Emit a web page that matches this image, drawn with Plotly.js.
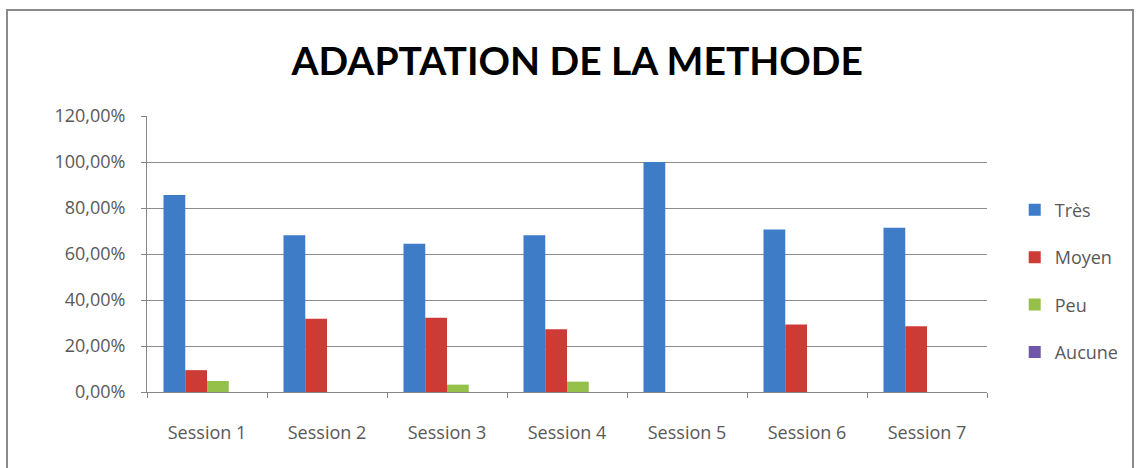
<!DOCTYPE html>
<html>
<head>
<meta charset="utf-8">
<script src="https://cdn.plot.ly/plotly-3.0.1.min.js"></script>
<style>
html,body{margin:0;padding:0;background:#fff;}
#chart{width:1143px;height:468px;}
#frame{position:absolute;left:6px;top:9px;width:1128px;height:470px;border:2px solid #8a8a8a;border-bottom:none;pointer-events:none;box-sizing:border-box;}
</style>
</head>
<body>
<div id="chart"></div>
<div id="frame"></div>
<script>
const categories = ["Session 1","Session 2","Session 3","Session 4","Session 5","Session 6","Session 7"];
const tres   = [0.857, 0.682, 0.645, 0.682, 1.00, 0.706, 0.714];
const moyen  = [0.095, 0.318, 0.323, 0.273, 0.00, 0.294, 0.286];
const peu    = [0.048, 0.00, 0.032, 0.045, 0.00, 0.00, 0.00];
const aucune = [0, 0, 0, 0, 0, 0, 0];
const seriesNames = ["Très","Moyen","Peu","Aucune"];
const colors = ["#3e7cc8","#cc3b36","#95c04a","#6f56a8"];

const allSeries = [tres, moyen, peu, aucune];
const traces = allSeries.map((vals, i) => ({
  type: "bar",
  name: seriesNames[i],
  x: categories,
  y: vals,
  marker: {color: colors[i]},
  legendgroup: "g" + i,
  hoverinfo: "x+y"
}));

const layout = {
  width: 1143, height: 468,
  margin: {l: 147, r: 156, t: 116, b: 76},
  paper_bgcolor: "#ffffff",
  plot_bgcolor: "#ffffff",
  separators: ", ",
  barmode: "group",
  bargap: 0.275,
  bargroupgap: 0,
  title: {
    text: "<b>ADAPTATION DE LA METHODE</b>",
    font: {family: "Lato, 'Open Sans', sans-serif", size: 39, color: "#000000"},
    x: 0.505, xanchor: "center",
    y: 0.868, yanchor: "middle"
  },
  font: {family: "'Open Sans', sans-serif", color: "#595959"},
  xaxis: {
    type: "category",
    showgrid: false,
    showline: true, linecolor: "#868686", linewidth: 1,
    ticks: "outside", tickson: "boundaries", ticklen: 5, tickcolor: "#868686",
    tickfont: {size: 18, color: "#595959"},
    ticklabelstandoff: 24,
    zeroline: false
  },
  yaxis: {
    range: [0, 1.2],
    tickvals: [0, 0.2, 0.4, 0.6, 0.8, 1.0, 1.2],
    tickformat: ".2%",
    showgrid: true, gridcolor: "#8c8c8c", gridwidth: 1,
    showline: true, linecolor: "#868686", linewidth: 1,
    ticks: "outside", ticklen: 5, tickcolor: "#868686",
    tickfont: {size: 18, color: "#595959"},
    ticklabelstandoff: 12,
    zeroline: false,
    fixedrange: true
  },
  legend: {
    x: 1.033, xanchor: "left",
    y: 0.402, yanchor: "middle",
    font: {size: 18, color: "#595959"},
    tracegroupgap: 21,
    itemwidth: 30,
    bgcolor: "rgba(0,0,0,0)"
  },
  showlegend: true
};

Plotly.newPlot("chart", traces, layout, {displayModeBar: false, staticPlot: true});
</script>
</body>
</html>
